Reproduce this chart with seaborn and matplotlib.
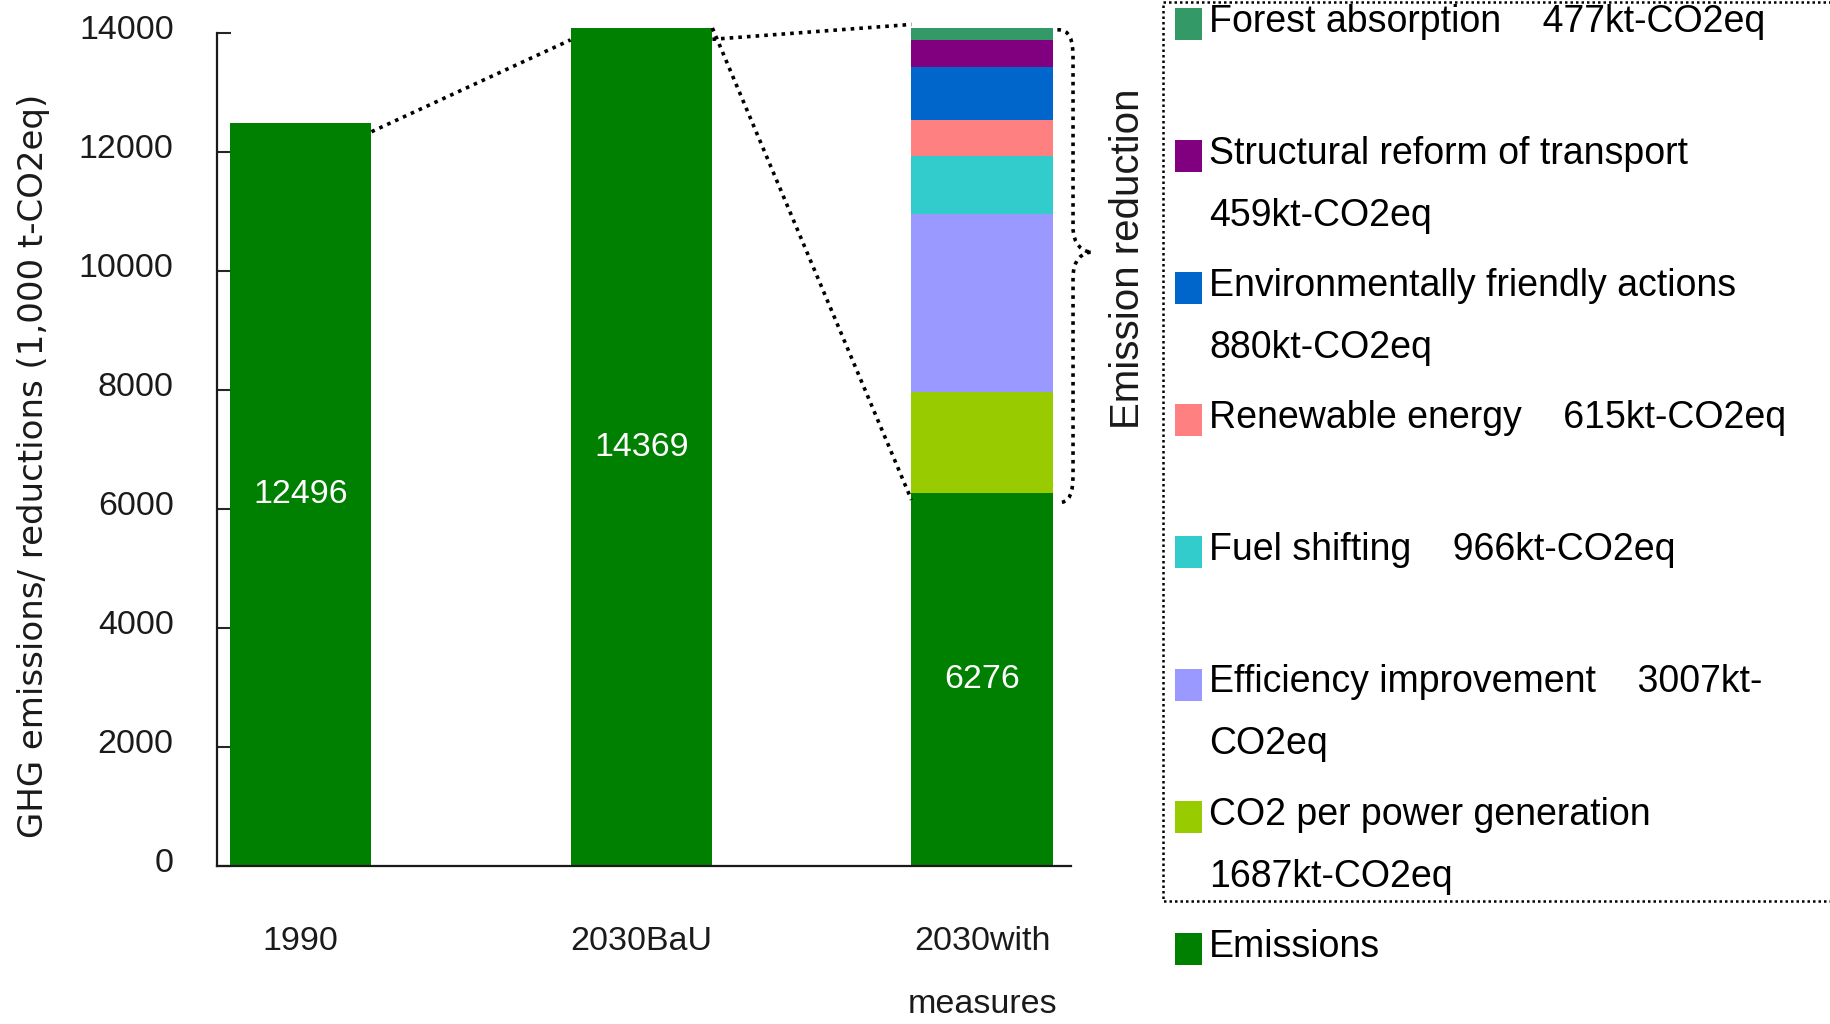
import numpy as np
import pandas as pd
import matplotlib
matplotlib.use("Agg")
import matplotlib.pyplot as plt
from matplotlib.path import Path
from matplotlib.patches import PathPatch, Rectangle
from matplotlib.lines import Line2D
from matplotlib.transforms import ScaledTranslation
from matplotlib import font_manager as fm
import seaborn as sns

# ---- data -------------------------------------------------------------
categories = ["1990", "2030BaU", "2030with\nmeasures"]
emissions = [12496, 14369, 6276]          # 1,000 t-CO2eq

# reduction measures stacked on the "with measures" bar, bottom to top
measures = ["CO2 per power generation", "Efficiency improvement", "Fuel shifting",
            "Renewable energy", "Environmentally friendly actions",
            "Structural reform of transport", "Forest absorption"]
reductions = [1687, 3007, 966, 615, 880, 459, 477]   # kt-CO2eq
measure_colors = ["#99cc00", "#9999ff", "#33cccc", "#ff8080",
                  "#0066cc", "#800080", "#339966"]
emission_color = "#008000"

# how each legend entry is laid out (top to bottom = top of stack first)
legend_formats = {
    "Forest absorption": "{n}    {v}kt-CO2eq",
    "Structural reform of transport": "{n}\n{v}kt-CO2eq",
    "Environmentally friendly actions": "{n}\n{v}kt-CO2eq",
    "Renewable energy": "{n}    {v}kt-CO2eq",
    "Fuel shifting": "{n}    {v}kt-CO2eq",
    "Efficiency improvement": "{n}    {v}kt-\nCO2eq",
    "CO2 per power generation": "{n}\n{v}kt-CO2eq",
}

y_ticks = list(range(0, 14001, 2000))

# ---- style ------------------------------------------------------------
sns.set_theme(style="white")
installed = {f.name for f in fm.fontManager.ttflist}
narrow = "Liberation Sans Narrow" if "Liberation Sans Narrow" in installed else "Liberation Sans"
plt.rcParams["font.family"] = ["Liberation Sans", "DejaVu Sans"]
tick_fs = 24.5

W, H = 1830, 1024
fig = plt.figure(figsize=(W / 100, H / 100), dpi=100)
ax = fig.add_axes([216.7 / W, 1 - 866 / H, (1071 - 216.7) / W, (866 - 28) / H])

bar_width = 0.416

# stacked reductions: draw cumulative tops from the highest down
tops = np.cumsum([emissions[2]] + reductions)
for k in range(len(reductions) - 1, -1, -1):
    layer = pd.DataFrame({"cat": [categories[2]], "val": [tops[k + 1]]})
    sns.barplot(data=layer, x="cat", y="val", order=categories, color=measure_colors[k],
                saturation=1, width=bar_width, errorbar=None, linewidth=0, ax=ax)

# emissions bars
base = pd.DataFrame({"cat": categories, "val": emissions})
sns.barplot(data=base, x="cat", y="val", order=categories, color=emission_color,
            saturation=1, width=bar_width, errorbar=None, linewidth=0, ax=ax)
ax.bar_label(ax.containers[-1], labels=[str(v) for v in emissions], label_type="center",
             color="white", fontsize=tick_fs, fontfamily=narrow)

y_top = 14090
ax.set_ylim(0, y_top)
ax.set_xlim(-0.246, 2.26)

# axes styling
sns.despine(ax=ax, top=True, right=True)
ax.spines["left"].set_bounds(0, 14000)
for s in ("left", "bottom"):
    ax.spines[s].set_linewidth(1.6)
    ax.spines[s].set_color("#1a1a1a")
ax.set_yticks(y_ticks)
ax.set_yticklabels([str(t) for t in y_ticks], fontsize=tick_fs, fontfamily=narrow, color="#1a1a1a")
ax.set_xticks(range(len(categories)))
ax.set_xticklabels(categories, fontsize=tick_fs, fontfamily=narrow, color="#1a1a1a",
                   linespacing=2.35)
ax.tick_params(axis="y", direction="in", length=10, width=1.5, pad=31, left=True)
ax.tick_params(axis="x", length=0, pad=43)
lift = ScaledTranslation(0, 6 / 100, fig.dpi_scale_trans)
for lbl in ax.get_yticklabels():
    lbl.set_transform(lbl.get_transform() + lift)
ax.set_xlabel("")
ax.set_ylabel("GHG emissions/ reductions (1,000 t-CO2eq)", fontsize=24.5,
              fontfamily="DejaVu Sans", color="#1a1a1a", va="center")
ax.yaxis.set_label_coords(-0.215, 0.477)

# dotted guide lines between the bars
hw = bar_width / 2
dots = dict(color="black", lw=2.6, linestyle=(0, (1, 1.4)), clip_on=False)
ax.plot([0 + hw, 1 - hw], [emissions[0] - 150, y_top - 200], **dots)
ax.plot([1 + hw, 2 - hw], [y_top - 190, y_top + 60], **dots)
ax.plot([1 + hw, 2 - hw], [y_top, emissions[2] - 120], **dots)

# curly brace around the reductions
xr = 2 + hw
xs, xm, xt = xr + 0.012, xr + 0.058, xr + 0.114
y_hi, y_lo = y_top - 30, emissions[2] - 170
ry, th = 500, 420
ymid = 0.5 * (y_hi + y_lo) + 0.03 * (y_hi - y_lo)
verts = [
    (xs, y_hi),
    (xs + 0.8 * (xm - xs), y_hi), (xm, y_hi - 0.3 * ry), (xm, y_hi - ry),
    (xm, ymid + th),
    (xm, ymid + 0.3 * th), (xm + 0.5 * (xt - xm), ymid), (xt, ymid),
    (xm + 0.5 * (xt - xm), ymid), (xm, ymid - 0.3 * th), (xm, ymid - th),
    (xm, y_lo + ry),
    (xm, y_lo + 0.3 * ry), (xs + 0.8 * (xm - xs), y_lo), (xs, y_lo),
]
codes = [Path.MOVETO] + [Path.CURVE4] * 3 + [Path.LINETO] + [Path.CURVE4] * 6 \
        + [Path.LINETO] + [Path.CURVE4] * 3
ax.add_patch(PathPatch(Path(verts, codes), fill=False, edgecolor="black", lw=2.6,
                       linestyle=(0, (1, 1.4)), clip_on=False))

fig.text(1128 / W, 1 - 259 / H, "Emission reduction", rotation=90, ha="center", va="center",
         fontsize=29, color="#1a1a1a")

# ---- legend (drawn by hand so entries keep equal slots) --------------
def fx(x):
    return x / W

def fy(y):
    return 1 - y / H

entries = []
for name, val, col in zip(measures[::-1], reductions[::-1], measure_colors[::-1]):
    entries.append((legend_formats[name].format(n=name, v=val), col))
entries.append(("Emissions", emission_color))

slot0, slot = 24, 132.1
line_gap = 62
for i, (label, col) in enumerate(entries):
    yc = slot0 + i * slot
    fig.add_artist(Rectangle((fx(1175), fy(yc + 16)), 27 / W, 32 / H,
                             transform=fig.transFigure, facecolor=col, edgecolor="none"))
    for j, line in enumerate(label.split("\n")):
        fig.text(fx(1209), fy(yc - 2 + j * line_gap), line, ha="left", va="center",
                 fontsize=27, color="black")

fig.add_artist(Line2D([fx(1832), fx(1163), fx(1163), fx(1832)],
                      [fy(2), fy(2), fy(901), fy(901)], transform=fig.transFigure,
                      color="black", lw=1.8, linestyle=(0, (1, 1.2))))

fig.savefig("out.png", dpi=100, facecolor="white")
